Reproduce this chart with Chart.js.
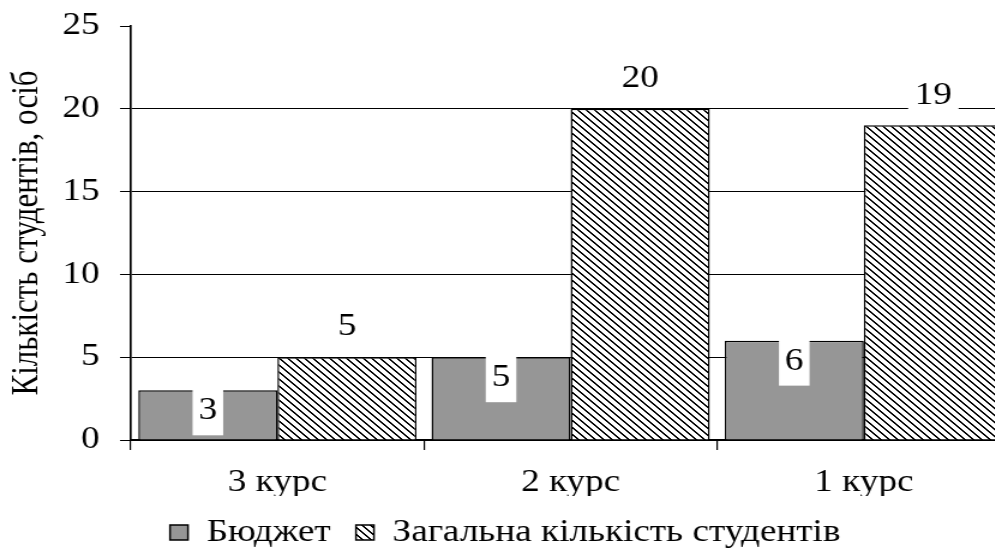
<!DOCTYPE html>
<html>
<head>
<meta charset="utf-8">
<script src="https://cdn.jsdelivr.net/npm/chart.js@4.4.1/dist/chart.umd.min.js"></script>
<style>
html,body{margin:0;padding:0;overflow:hidden;background:#fff;width:995px;height:552px;}
#wrap{width:842px;height:558px;transform:scaleX(1.2);transform-origin:0 0;}
canvas{display:block;}
</style>
</head>
<body>
<div id="wrap"><canvas id="c" width="842" height="558" style="width:842px;height:558px"></canvas></div>
<script>
const categories = ['3 курс', '2 курс', '1 курс'];
const budgetValues = [3, 5, 6];
const totalValues = [5, 20, 19];
const seriesNames = ['Бюджет', 'Загальна кількість студентів'];
const yAxisTitle = 'Кількість студентів, осіб';
const yMin = 0, yMax = 25, yStep = 5;

const FONT = '"Liberation Serif", "Times New Roman", serif';
const FS = 31;

const ctx = document.getElementById('c').getContext('2d');
const hatch = ctx.createPattern((function(){
  const n = 7;
  const t = document.createElement('canvas');
  t.width = n; t.height = n;
  const g = t.getContext('2d');
  g.fillStyle = '#fff'; g.fillRect(0,0,n,n);
  g.fillStyle = '#000';
  for (let y = 0; y < n; y++) { g.fillRect(y, y, 1, 1); g.fillRect((y+1)%n, y, 1, 1); }
  return t;
})(), 'repeat');

const labelPlugin = {
  id: 'valueLabels',
  afterDatasetsDraw(chart) {
    const c = chart.ctx;
    c.save();
    c.font = FS + 'px ' + FONT;
    c.textAlign = 'center';
    c.textBaseline = 'middle';
    chart.data.datasets.forEach((ds, di) => {
      const meta = chart.getDatasetMeta(di);
      meta.data.forEach((bar, i) => {
        const txt = String(ds.data[i]);
        const w = c.measureText(txt).width;
        if (di === 0) {
          const bw = w + 10;
          c.fillStyle = '#fff';
          c.fillRect(bar.x - bw / 2, bar.y - 1, bw, 46);
          c.fillStyle = '#000';
          c.fillText(txt, bar.x, bar.y + 21);
        } else {
          const bw = w + 11;
          const cy = bar.y - 30;
          c.fillStyle = '#fff';
          c.fillRect(bar.x - bw / 2, cy - 16, bw, 32);
          c.fillStyle = '#000';
          c.fillText(txt, bar.x, cy);
        }
      });
    });
    c.restore();
  }
};

new Chart(ctx, {
  type: 'bar',
  data: {
    labels: categories,
    datasets: [
      { label: seriesNames[0], data: budgetValues, backgroundColor: '#969696', borderColor: '#000', borderWidth: 1.5 },
      { label: seriesNames[1], data: totalValues, backgroundColor: hatch, borderColor: '#000', borderWidth: 1.5 }
    ]
  },
  options: {
    responsive: false,
    animation: false,
    devicePixelRatio: 1,
    layout: { padding: { top: 26, right: 0, left: 0, bottom: 0 } },
    datasets: { bar: { categoryPercentage: 0.949, barPercentage: 1.0 } },
    plugins: {
      legend: {
        position: 'bottom',
        labels: {
          boxWidth: 15, boxHeight: 15, color: '#000',
          font: { family: FONT, size: FS }, padding: 21
        }
      },
      tooltip: { enabled: false }
    },
    scales: {
      x: {
        grid: { display: true, drawOnChartArea: false, drawTicks: true, tickLength: 10, color: '#000', lineWidth: 1.2, offset: true },
        border: { display: true, color: '#000', width: 2 },
        ticks: { color: '#000', font: { family: FONT, size: FS }, padding: 14 },
        afterFit: s => { s.height = 56; s.paddingLeft = 0; s.paddingRight = 0; }
      },
      y: {
        min: yMin, max: yMax,
        ticks: { stepSize: yStep, color: '#000', font: { family: FONT, size: FS }, padding: 17 },
        grid: { color: c => (c.tick && c.tick.value === yMax) ? 'rgba(0,0,0,0)' : '#000', tickColor: '#000', lineWidth: 1, tickLength: 9 },
        border: { display: true, color: '#000', width: 1.7 },
        title: { display: true, text: yAxisTitle, color: '#000', font: { family: FONT, size: FS }, padding: { top: 4, bottom: 0 } },
        afterFit: s => { s.width = 109; s.paddingTop = 0; s.paddingBottom = 0; }
      }
    }
  },
  plugins: [labelPlugin]
});
</script>
</body>
</html>
